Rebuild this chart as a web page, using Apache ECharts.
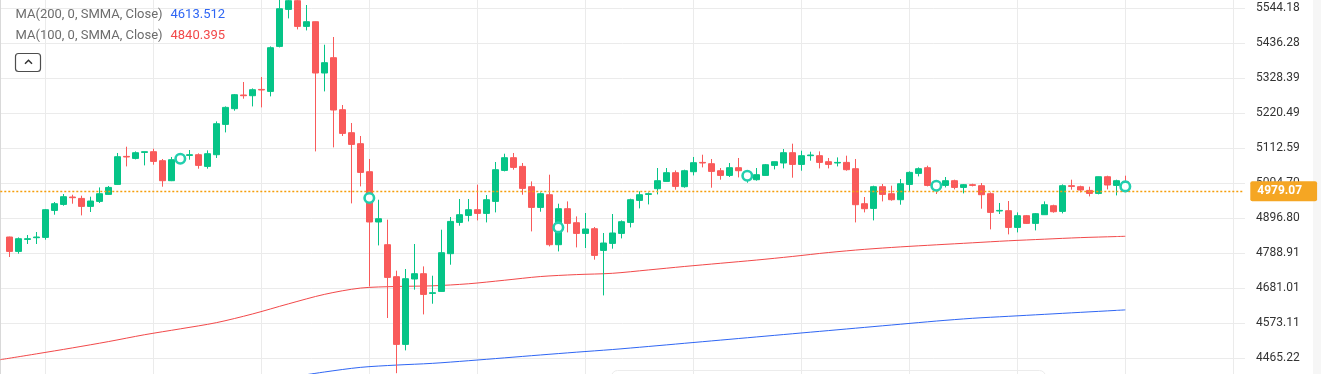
<!DOCTYPE html>
<html><head><meta charset="utf-8">
<script src="https://cdn.jsdelivr.net/npm/echarts/dist/echarts.min.js"></script>
<style>html,body{margin:0;padding:0;background:#fff;overflow:hidden;width:1321px;height:374px}#c{position:absolute;left:0;top:-27px;width:1321px;height:420px}</style>
</head><body><div id="c"></div><script>
// ---- data ----
const opens = [4838.2,4793.8,4830.8,4836.1,4837.0,4920.2,4938.7,4961.5,4957.2,4932.6,
 4948.0,4969.6,5000.4,5086.7,5080.5,5099.0,5101.2,5073.5,5011.8,5076.5,
 5089.8,5091.9,5055.9,5091.9,5185.4,5233.8,5276.0,5273.8,5293.2,5287.1,
 5425.8,5539.9,5566.7,5487.5,5501.9,5343.8,5391.0,5230.7,5159.8,5125.9,
 5039.5,4884.5,4814.5,4715.9,4507.2,4708.8,4725.1,4664.4,4670.5,4786.8,
 4883.2,4904.8,4922.4,4911.0,4948.0,5043.5,5082.7,5055.9,4993.3,4929.5,
 4968.6,4814.5,4925.5,4882.3,4849.3,4863.8,4796.9,4818.5,4849.3,4883.2,
 4951.1,4969.6,4987.1,5009.6,5036.5,4993.3,5039.5,5068.2,5064.2,5042.6,
 5028.1,5051.9,5024.1,5014.9,5028.1,5059.0,5066.4,5098.1,5062.0,5088.9,
 5088.9,5070.4,5066.4,5068.2,5048.8,4940.9,4926.4,4993.3,4971.7,4953.2,
 5000.4,5034.3,5051.9,4999.5,4997.3,5011.8,4991.1,4999.5,4996.4,4971.7,
 4918.4,4919.3,4867.8,4903.9,4880.2,4907.0,4934.7,4917.2,4996.4,4993.3,
 4981.9,4972.6,5024.1,4997.3,5008.7];
const closes = [4793.8,4833.0,4833.0,4838.2,4922.4,4940.9,4962.5,4959.4,4932.6,4949.2,
 4971.7,4991.1,5085.8,5084.9,5098.1,5101.2,5071.3,5011.8,5076.5,5082.7,
 5091.9,5059.0,5095.0,5187.5,5237.8,5276.9,5273.8,5292.3,5291.4,5421.8,
 5542.0,5566.7,5487.5,5501.9,5343.8,5375.6,5229.7,5157.6,5123.7,5037.4,
 4884.5,4894.6,4713.7,4507.2,4709.7,4725.1,4661.3,4666.5,4789.8,4886.3,
 4907.0,4922.4,4911.0,4953.2,5045.7,5082.7,5052.8,4988.1,4929.5,4971.7,
 4814.5,4925.5,4880.2,4849.3,4862.9,4781.5,4819.7,4850.6,4885.4,4953.2,
 4968.6,4971.7,5011.8,5036.5,4994.2,5042.6,5067.3,5066.4,5040.5,5028.1,
 5051.9,5042.6,5033.4,5030.3,5061.1,5070.4,5098.1,5062.0,5088.9,5091.0,
 5068.2,5062.0,5068.2,5045.7,4937.8,4925.5,4993.3,4969.6,4953.2,5002.5,
 5037.4,5048.8,4997.3,4993.3,5011.8,4991.1,4999.5,4997.3,4968.6,4914.1,
 4920.2,4867.8,4903.9,4880.2,4910.1,4937.8,4916.2,4996.4,4994.2,4983.1,
 4972.6,5024.1,4998.5,5011.8,4979.07];
const lows = [4776.6,4786.8,4816.7,4816.7,4829.9,4907.0,4934.7,4940.9,4904.8,4915.3,
 4943.1,4968.6,4999.5,5055.9,5077.5,5059.0,5061.1,4993.3,5010.5,5070.4,
 5076.5,5048.8,5048.8,5081.8,5160.7,5227.6,5264.6,5240.8,5237.8,5271.7,
 5422.7,5512.1,5478.2,5475.1,5102.1,5287.1,5114.5,5149.6,4941.8,4994.2,
 4686.0,4812.3,4588.5,4418.4,4488.7,4675.8,4599.6,4632.6,4669.6,4752.8,
 4873.1,4886.3,4889.4,4883.2,4914.1,5040.5,5045.7,4968.6,4855.5,4916.2,
 4809.3,4793.8,4852.4,4806.2,4804.3,4768.3,4658.2,4802.2,4833.9,4867.8,
 4926.4,4938.7,4969.6,5008.7,4984.1,4990.2,5028.1,5052.8,4990.2,5014.9,
 5023.2,5022.0,5005.6,5011.8,5027.2,5046.6,5049.7,5021.0,5042.6,5073.5,
 5049.7,5049.7,5055.9,5042.6,4883.2,4914.1,4889.4,4948.0,4950.1,4937.8,
 4978.8,5025.1,4994.2,4970.8,4991.1,4985.0,4972.6,4994.2,4925.5,4861.7,
 4909.1,4846.3,4852.4,4878.3,4858.6,4906.5,4913.1,4911.0,4984.1,4975.7,
 4963.4,4969.6,4985.0,4966.5,4977.9];
const highs = [4839.2,4837.0,4844.4,4853.6,4924.6,4946.1,4970.8,4968.6,4965.6,4962.5,
 4991.1,4995.5,5097.2,5116.6,5102.1,5101.5,5110.4,5078.7,5084.9,5091.9,
 5106.4,5096.0,5105.2,5194.6,5240.8,5279.1,5316.1,5296.3,5331.5,5425.8,
 5575.0,5576.0,5572.8,5553.4,5502.5,5431.0,5454.8,5245.2,5189.7,5149.6,
 5078.7,4953.2,4891.6,4734.4,4739.6,4816.7,4747.6,4718.9,4860.7,4899.9,
 4955.4,4955.4,4999.5,4967.7,5069.4,5095.0,5097.2,5066.4,5009.6,4975.7,
 5030.3,4940.9,4948.0,4901.7,4912.2,4869.1,4850.6,4909.1,4889.4,4956.3,
 4978.8,4975.7,5050.9,5050.9,5043.5,5045.7,5084.9,5091.9,5078.7,5050.9,
 5066.4,5081.8,5039.5,5050.9,5063.3,5070.8,5109.5,5125.9,5104.3,5101.2,
 5102.1,5081.8,5083.6,5088.9,5078.7,4961.5,4996.4,5001.6,4996.4,5017.0,
 5040.5,5052.8,5058.0,5002.5,5023.2,5014.9,5001.6,5002.5,5004.7,4975.7,
 4943.1,4949.2,4914.1,4906.1,4912.2,4948.0,4937.8,5000.4,5014.9,4996.4,
 4993.3,5024.6,5027.2,5014.9,5027.2];

// signal circles: bar index and price
const signalBars = [19, 40, 61, 82, 103, 124];
const signalVals = [5079.6, 4958.5, 4867.8, 5027.2, 4996.4, 4994.2];

// MA lines: bar index (-1 = one bar before the first candle) and value
const ma100Bars = [-1,3,7,11,15,19,23,27,31,35,39,43,47,51,55,59,63,67,71,75,79,83,87,91,95,99,103,107,111,115,119,123,124];
const ma100Vals = [4460.0,4477.9,4496.3,4515.7,4536.8,4555.1,4574.1,4600.8,4632.0,4661.3,4680.7,4685.7,4687.7,4694.0,4704.9,4716.3,4722.3,4726.3,4736.6,4747.3,4757.2,4767.1,4778.2,4790.3,4800.1,4807.7,4814.1,4820.3,4826.5,4831.5,4836.3,4839.6,4840.395];
const ma200Bars = [31,35,39,43,47,51,55,59,63,67,71,75,79,83,87,91,95,99,103,107,111,115,119,123,124];
const ma200Vals = [4405.0,4422.0,4436.3,4443.4,4448.7,4456.8,4465.6,4474.5,4483.1,4491.3,4500.7,4510.5,4520.3,4530.1,4539.9,4549.7,4559.5,4569.3,4579.1,4587.6,4593.7,4599.8,4605.9,4612.0,4613.512];

const lastPrice = 4979.07;
const yTickLabels = ['4465.22','4573.11','4681.01','4788.91','4896.80','5004.70','5112.59','5220.49','5328.39','5436.28','5544.18'];
const legendNames = ['MA(200, 0, SMMA, Close)', 'MA(100, 0, SMMA, Close)'];

// ---- chart ----
const GREEN = '#05c487', RED = '#f95a5a';
const OY = 27;               // the chart div starts 27px above the window
const N = 139;               // slots on the time axis
const cats = Array.from({length: N}, (_, i) => String(i));
const candleData = cats.map((_, c) => {
  const k = c - 1;
  return (k >= 0 && k < opens.length) ? [opens[k], closes[k], lows[k], highs[k]] : '-';
});
const Y_INT = 107.896, Y_MIN = 4465.22 - Y_INT, Y_MAX = 5544.18 + Y_INT;

const chart = echarts.init(document.getElementById('c'), null, {renderer: 'canvas'});
chart.setOption({
  animation: false,
  backgroundColor: '#ffffff',
  grid: [
    {left: 0.3, right: 78.7, top: 0, bottom: 0},
    {left: 0, right: 76, top: 0, bottom: 0}
  ],
  xAxis: [
    {gridIndex: 0, type: 'category', data: cats, boundaryGap: false,
     axisLine: {show: false}, axisTick: {show: false}, axisLabel: {show: false},
     splitLine: {show: true, interval: (i) => i % 12 === 5, lineStyle: {color: '#ebebeb', width: 1}}},
    {gridIndex: 1, type: 'value', min: 0, max: 1, show: false}
  ],
  yAxis: [
    {gridIndex: 0, type: 'value', min: Y_MIN, max: Y_MAX, interval: Y_INT, show: false, splitLine: {show: false}},
    {gridIndex: 1, type: 'value', position: 'right', min: Y_MIN, max: Y_MAX, interval: Y_INT,
     axisLine: {show: true, lineStyle: {color: '#d9d9d9'}},
     axisTick: {show: true, inside: true, length: 5, lineStyle: {color: '#cfcfcf'}},
     axisLabel: {margin: 11, color: '#333333', fontSize: 12, fontFamily: 'Roboto',
       formatter: (v) => yTickLabels.find(s => Math.abs(parseFloat(s) - v) < 0.5) || ''},
     splitLine: {show: true, lineStyle: {color: '#ebebeb', width: 1}}}
  ],
  series: [
    {type: 'line', xAxisIndex: 0, yAxisIndex: 0, data: ma100Bars.map((b, i) => [b + 1, ma100Vals[i]]),
     smooth: 0.3, symbol: 'none', lineStyle: {color: '#f2494a', width: 1}, z: 2},
    {type: 'line', xAxisIndex: 0, yAxisIndex: 0, data: ma200Bars.map((b, i) => [b + 1, ma200Vals[i]]),
     smooth: 0.3, symbol: 'none', lineStyle: {color: '#2f66f4', width: 1}, z: 2},
    {type: 'candlestick', xAxisIndex: 0, yAxisIndex: 0, data: candleData, barWidth: 6,
     itemStyle: {color: GREEN, color0: RED, borderColor: GREEN, borderColor0: RED, borderWidth: 1},
     z: 3,
     markLine: {symbol: 'none', silent: true, animation: false,
       lineStyle: {color: '#f59e0b', type: [2, 2], width: 1.4, opacity: 1},
       label: {show: true, position: 'end', formatter: () => lastPrice.toFixed(2),
         color: '#ffffff', backgroundColor: '#f5a623', fontWeight: 'bold', fontSize: 12,
         fontFamily: 'Roboto', padding: [4, 15, 4, 7], borderRadius: 2, distance: 8},
       data: [{yAxis: lastPrice}]}},
    {type: 'scatter', xAxisIndex: 0, yAxisIndex: 0, data: signalBars.map((b, i) => [b + 1, signalVals[i]]),
     symbol: 'circle', symbolSize: 9.5,
     itemStyle: {color: '#ffffff', borderColor: '#22cfae', borderWidth: 2.6, opacity: 1}, z: 5}
  ],
  graphic: [
    {type: 'rect', silent: true, z: -10, shape: {x: 1313, y: 0, width: 8, height: 420}, style: {fill: '#f6f6f6'}},
    {type: 'text', z: 10, x: 15.5, y: 14.5 + OY, style: {text: legendNames[0], font: '13px Roboto', fill: '#6d6d6d', verticalAlign: 'middle'}},
    {type: 'text', z: 10, x: 170.5, y: 14.5 + OY, style: {text: ma200Vals[ma200Vals.length - 1].toFixed(3), font: '13px Roboto', fill: '#2f66f4', verticalAlign: 'middle'}},
    {type: 'text', z: 10, x: 15.5, y: 36 + OY, style: {text: legendNames[1], font: '13px Roboto', fill: '#6d6d6d', verticalAlign: 'middle'}},
    {type: 'text', z: 10, x: 170.5, y: 36 + OY, style: {text: ma100Vals[ma100Vals.length - 1].toFixed(3), font: '13px Roboto', fill: '#f2494a', verticalAlign: 'middle'}},
    {type: 'rect', z: 10, shape: {x: 15.5, y: 53.5 + OY, width: 25, height: 18, r: 3}, style: {fill: '#ffffff', stroke: '#4d4d4d', lineWidth: 1.2}},
    {type: 'polyline', z: 11, shape: {points: [[25, 63.8 + OY], [28.5, 60.3 + OY], [32, 63.8 + OY]]}, style: {stroke: '#333333', lineWidth: 1.5, fill: null}},
    {type: 'rect', silent: true, shape: {x: 611.5, y: 370.5 + OY, width: 434, height: 30, r: 6}, style: {fill: 'rgba(255,255,255,0)', stroke: '#ececec', lineWidth: 1}}
  ]
});
</script></body></html>
